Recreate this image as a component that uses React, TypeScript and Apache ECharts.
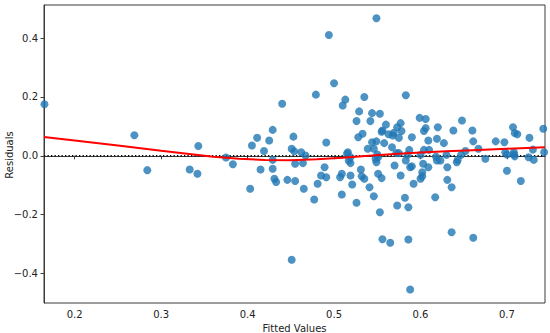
import React, { useEffect, useRef } from "react";
import * as echarts from "echarts";

const fittedValues: number[] = [
  0.165, 0.269, 0.284, 0.333, 0.342, 0.343, 0.375, 0.383, 0.403, 0.405,
  0.411, 0.419, 0.425, 0.429, 0.429, 0.440, 0.415, 0.429, 0.431, 0.433,
  0.446, 0.451, 0.453, 0.451, 0.455, 0.455, 0.454, 0.462, 0.464, 0.467,
  0.465, 0.479, 0.477, 0.481, 0.485, 0.489, 0.491, 0.491, 0.494, 0.500,
  0.510, 0.513, 0.535, 0.583, 0.529, 0.544, 0.553, 0.526, 0.542, 0.560,
  0.556, 0.555, 0.577, 0.573, 0.563, 0.569, 0.568, 0.578, 0.575, 0.599,
  0.606, 0.604, 0.606, 0.620, 0.619, 0.609, 0.590, 0.533, 0.528, 0.544,
  0.549, 0.558, 0.567, 0.539, 0.546, 0.516, 0.587, 0.604, 0.610, 0.627,
  0.515, 0.519, 0.517, 0.519, 0.509, 0.507, 0.519, 0.521, 0.509, 0.526,
  0.531, 0.532, 0.535, 0.541, 0.546, 0.553, 0.548, 0.549, 0.551, 0.551,
  0.555, 0.570, 0.573, 0.577, 0.583, 0.582, 0.586, 0.588, 0.590, 0.592,
  0.603, 0.602, 0.602, 0.600, 0.609, 0.617, 0.619, 0.575, 0.572, 0.585,
  0.600, 0.556, 0.565, 0.586, 0.588, 0.648, 0.638, 0.660, 0.661, 0.667,
  0.652, 0.687, 0.697, 0.707, 0.709, 0.712, 0.726, 0.742, 0.730, 0.698,
  0.700, 0.708, 0.708, 0.709, 0.675, 0.647, 0.643, 0.642, 0.631, 0.630,
  0.623, 0.700, 0.716, 0.725, 0.731, 0.743, 0.631, 0.636, 0.636, 0.661,
  0.549, 0.618, 0.550,
];

const residuals: number[] = [
  0.175, 0.070, -0.049, -0.047, -0.061, 0.033, -0.006, -0.029, -0.112, 0.035,
  0.061, 0.016, 0.052, 0.088, -0.014, 0.177, -0.047, -0.044, -0.078, -0.089,
  -0.082, 0.024, 0.065, -0.354, -0.027, -0.086, 0.015, 0.012, -0.025, 0.001,
  -0.112, 0.208, -0.149, -0.095, -0.067, -0.039, -0.073, 0.045, 0.411, 0.247,
  0.171, 0.191, 0.200, 0.206, 0.151, 0.145, 0.143, 0.118, 0.118, 0.106,
  0.086, 0.082, 0.111, 0.097, 0.073, 0.078, 0.069, 0.084, 0.061, 0.129,
  0.125, 0.084, 0.094, 0.097, 0.058, 0.052, 0.063, 0.075, 0.063, 0.046,
  0.049, 0.043, 0.029, 0.024, 0.024, 0.012, 0.020, 0.020, 0.020, 0.043,
  0.007, -0.005, -0.016, -0.025, -0.061, -0.073, -0.067, -0.098, -0.132, -0.160,
  -0.047, -0.070, -0.078, -0.107, -0.138, -0.192, -0.010, -0.022, -0.005, -0.061,
  -0.076, -0.033, -0.169, -0.067, -0.016, -0.143, -0.175, -0.039, -0.036, -0.095,
  -0.027, -0.056, -0.070, -0.078, -0.039, -0.141, -0.016, 0.009, 0.009, 0.003,
  0.003, -0.284, -0.296, -0.285, -0.455, 0.120, 0.086, 0.086, 0.049, 0.024,
  0.016, 0.049, 0.046, 0.097, 0.077, 0.073, 0.061, 0.092, 0.021, 0.012,
  0.004, 0.012, 0.004, -0.002, -0.010, 0.003, -0.014, -0.022, -0.039, 0.003,
  -0.016, -0.051, -0.086, -0.005, -0.014, 0.012, -0.082, -0.107, -0.260, -0.279,
  0.468, -0.003, 0.004,
];

const lowessX: number[] = [
  0.1645, 0.2, 0.25, 0.3, 0.33, 0.36, 0.39, 0.42, 0.45, 0.48, 0.51, 0.54, 0.57, 0.6, 0.63, 0.66, 0.7, 0.744,
];
const lowessY: number[] = [
  0.064, 0.052, 0.035, 0.017, 0.007, -0.003, -0.010, -0.014, -0.015, -0.012, -0.007, 0.0, 0.006, 0.011, 0.015, 0.019, 0.024, 0.029,
];

const xTicks: number[] = [0.2, 0.3, 0.4, 0.5, 0.6, 0.7];
const yTicks: number[] = [-0.4, -0.2, 0.0, 0.2, 0.4];

const X_MIN = 0.1645;
const X_MAX = 0.744;
const Y_MIN = -0.501;
const Y_MAX = 0.513;

const fmt = (v: number) => Number(v).toFixed(1).replace("-", "\u2212");

export default function App() {
  const ref = useRef<HTMLDivElement>(null);
  useEffect(() => {
    if (!ref.current) return;
    const chart = echarts.init(ref.current, null, { renderer: "svg" });
    const font = "DejaVu Sans";
    chart.setOption({
      animation: false,
      backgroundColor: "#ffffff",
      textStyle: { fontFamily: font },
      grid: {
        left: 44,
        right: 5,
        top: 5,
        bottom: 30,
        containLabel: false,
        outerBoundsMode: "none",
        show: true,
        borderColor: "#3a3a3a",
        borderWidth: 1,
        backgroundColor: "transparent",
      },
      graphic: [
        {
          type: "text",
          x: 9,
          y: 155,
          rotation: Math.PI / 2,
          style: {
            text: "Residuals",
            fontSize: 10,
            fontFamily: font,
            fill: "#222",
            textAlign: "center",
            textVerticalAlign: "middle",
          },
        },
      ],
      xAxis: {
        type: "value",
        min: X_MIN,
        max: X_MAX,
        name: "Fitted Values",
        nameLocation: "middle",
        nameGap: 19,
        nameTextStyle: { fontSize: 10, color: "#222", fontFamily: font },
        splitLine: { show: false },
        axisLine: { show: true, lineStyle: { color: "#3a3a3a", width: 1 } },
        axisTick: { show: true, length: 3.5, customValues: xTicks, lineStyle: { color: "#3a3a3a" } },
        axisLabel: {
          show: true,
          customValues: xTicks,
          formatter: fmt,
          fontSize: 10,
          color: "#222",
          margin: 6,
          fontFamily: font,
        },
      },
      yAxis: {
        type: "value",
        min: Y_MIN,
        max: Y_MAX,
        splitLine: { show: false },
        axisLine: { show: true, lineStyle: { color: "#3a3a3a", width: 1 } },
        axisTick: { show: true, length: 3.5, customValues: yTicks, lineStyle: { color: "#3a3a3a" } },
        axisLabel: {
          show: true,
          customValues: yTicks,
          formatter: fmt,
          fontSize: 10,
          color: "#222",
          margin: 6,
          fontFamily: font,
        },
      },
      series: [
        {
          type: "line",
          data: [
            [X_MIN, 0],
            [X_MAX, 0],
          ],
          showSymbol: false,
          silent: true,
          lineStyle: { color: "#000", width: 1.3, type: [1.3, 2.2] },
          z: 1,
        },
        {
          type: "scatter",
          data: fittedValues.map((x, i) => [x, residuals[i]]),
          symbolSize: 8,
          itemStyle: { color: "#1f77b4", opacity: 0.8 },
          z: 2,
        },
        {
          type: "line",
          data: lowessX.map((x, i) => [x, lowessY[i]]),
          smooth: false,
          showSymbol: false,
          silent: true,
          lineStyle: { color: "#ff0000", width: 2 },
          z: 3,
        },
      ],
    });
    return () => chart.dispose();
  }, []);
  return (
    <div
      ref={ref}
      style={{ position: "fixed", left: 0, top: 0, width: 550, height: 333 }}
    />
  );
}
